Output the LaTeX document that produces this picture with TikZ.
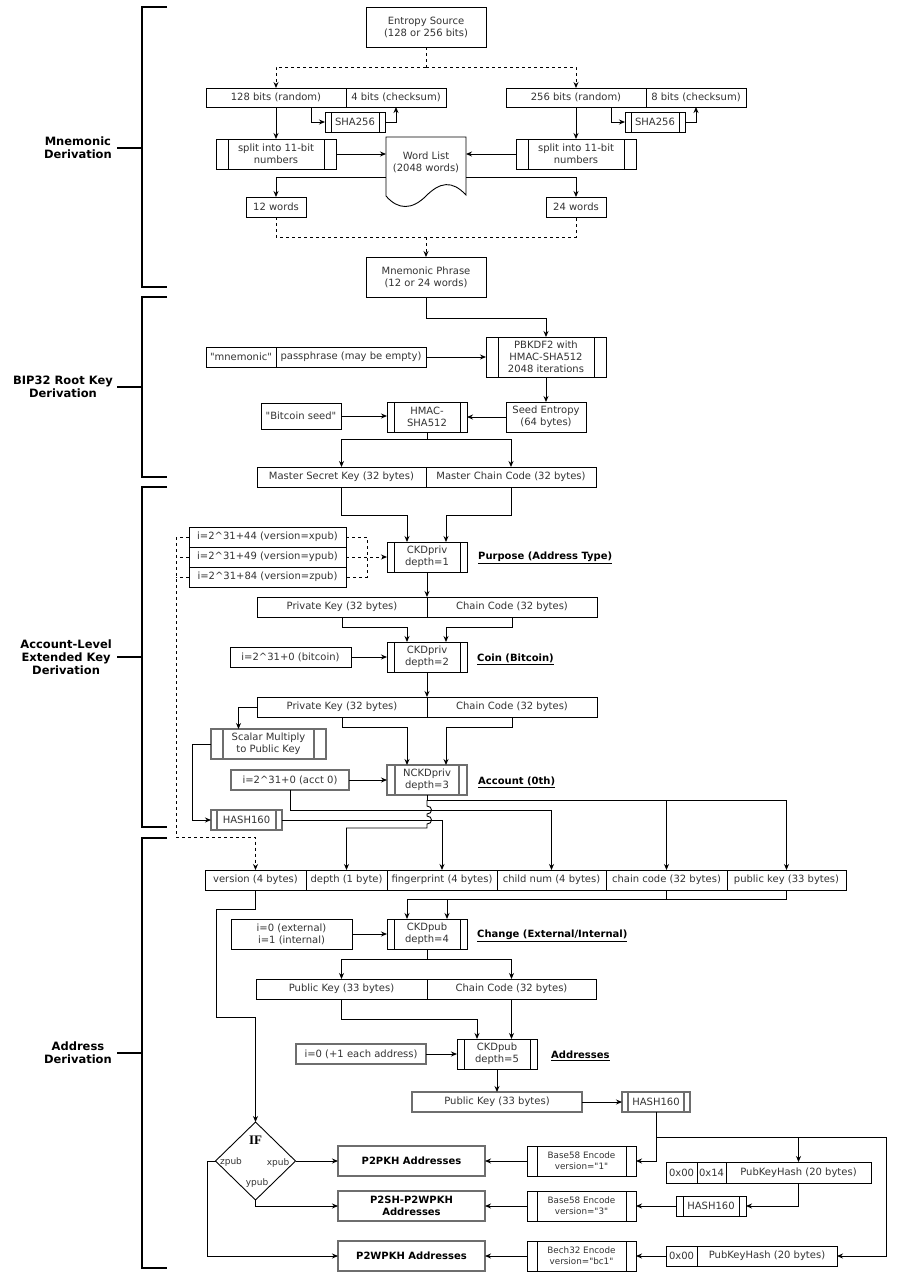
\documentclass[tikz,border=0pt]{standalone}
\usepackage{fontspec}
\setmainfont{DejaVu Sans}
\newfontfamily\dvq{DejaVu Sans}
\newcommand\strq{{\dvq"}}
\newfontfamily\iffont{Liberation Serif}
\usetikzlibrary{arrows.meta,shapes.geometric,calc}
\definecolor{txtc}{HTML}{333333}
\definecolor{gline}{HTML}{6E6E6E}
\tikzset{
 bx/.style={draw=black,line width=0.9pt,align=center,inner sep=1pt,outer sep=0pt,text=txtc,font=\fontsize{10}{12}\selectfont},
 gb/.style={draw=gline,line width=1.8pt},
 addr/.style={gb,font=\bfseries\fontsize{10}{12}\selectfont,text=black},
 ln/.style={line width=0.9pt,draw=black},
 arr/.style={ln,-{Stealth[length=6pt,width=5pt]}},
 dsh/.style={dash pattern=on 3pt off 3pt},
 sm/.style={font=\fontsize{8.8}{11}\selectfont},
 lab/.style={anchor=west,font=\bfseries\fontsize{10}{12}\selectfont,text=black,inner sep=0pt},
 sec/.style={anchor=east,align=center,font=\bfseries\fontsize{11.5}{13}\selectfont,inner sep=0pt},
 brk/.style={line width=2.2pt},
 ifl/.style={font=\fontsize{9}{11}\selectfont,text=txtc,inner sep=0pt},
}
\newcommand\mkbox[7][]{%
  \pgfmathsetmacro\mkcx{(#3+#5)/2}%
  \pgfmathsetmacro\mkcy{(#4+#6)/2}%
  \pgfmathsetmacro\mkw{#5-#3}%
  \pgfmathsetmacro\mkh{#6-#4}%
  \node[bx,#1,minimum width=\mkw pt,minimum height=\mkh pt] (#2) at (\mkcx,\mkcy) {#7};}
\newcommand\mkproc[8][]{%
  \mkbox[#1]{#2}{#3}{#4}{#5}{#6}{#8}%
  \draw[ln,#1] ([xshift=#7pt]#2.north west) -- ([xshift=#7pt]#2.south west)
               ([xshift=-#7pt]#2.north east) -- ([xshift=-#7pt]#2.south east);}
\begin{document}
\begin{tikzpicture}[x=1pt,y=-1pt]
\fill[white] (0,0) rectangle (900,1278);
\useasboundingbox (0,0) rectangle (900,1278);

% ---------- section brackets ----------
\node[sec] (s1) at (112,148) {Mnemonic\\Derivation};
\node[sec] (s2) at (113,387) {BIP32 Root Key\\Derivation};
\node[sec] (s3) at (112,657) {Account-Level\\Extended Key\\Derivation};
\node[sec] (s4) at (112,1053) {Address\\Derivation};
\draw[brk] (167,7) -- (142,7) -- (142,287) -- (167,287);
\draw[brk] (167,297) -- (142,297) -- (142,477) -- (167,477);
\draw[brk] (167,487) -- (142,487) -- (142,827) -- (167,827);
\draw[brk] (167,838) -- (142,838) -- (142,1268) -- (167,1268);
\draw[ln,line width=1.3pt] ([xshift=5pt]s1.east) -- (142,148);
\draw[ln,line width=1.3pt] ([xshift=4pt]s2.east) -- (142,387);
\draw[ln,line width=1.3pt] ([xshift=5pt]s3.east) -- (142,657);
\draw[ln,line width=1.3pt] ([xshift=5pt]s4.east) -- (142,1053);

% ---------- Mnemonic ----------
\mkbox{ent}{366}{7}{486}{47}{Entropy Source\\(128 or 256 bits)}
\mkbox{r128}{206}{88}{346}{107}{128 bits (random)}
\mkbox{c4}{346}{88}{446}{107}{4 bits (checksum)}
\mkbox{r256}{506}{88}{646}{107}{256 bits (random)}
\mkbox{c8}{646}{88}{746}{107}{8 bits (checksum)}
\mkproc{shaA}{325}{112}{385}{132}{6}{SHA256}
\mkproc{shaB}{625}{112}{685}{132}{6}{SHA256}
\mkproc{splA}{216}{139}{336}{169}{12}{split into 11-bit\\numbers}
\mkproc{splB}{516}{139}{636}{169}{12}{split into 11-bit\\numbers}
\node[bx,draw=none,minimum width=80pt,minimum height=50pt] (wl) at (426,162) {Word List\\(2048 words)};
\draw[ln] (wl.north west) -- (wl.north east) -- (466,195)
  .. controls (452,180) and (440,182) .. (426,196)
  .. controls (412,210) and (398,210) .. (386,196) -- cycle;
\mkbox{w12}{246}{197}{306}{217}{12 words}
\mkbox{w24}{546}{197}{606}{217}{24 words}
\mkbox{mp}{366}{257}{486}{297}{Mnemonic Phrase\\(12 or 24 words)}

\draw[ln,dsh] (ent.south) -- ++(0,20) coordinate (ej);
\draw[arr,dsh] (ej) -| (r128.north);
\draw[arr,dsh] (ej) -| (r256.north);
\draw[arr] (r128.south) -- (splA.north);
\draw[arr] (r256.south) -- (splB.north);
\draw[arr] ([xshift=-35pt]r128.south east) |- (shaA.west);
\draw[arr] (shaA.east) -| (c4.south);
\draw[arr] ([xshift=-35pt]r256.south east) |- (shaB.west);
\draw[arr] (shaB.east) -| (c8.south);
\draw[arr] (splA.east) -- (splA.east -| wl.west);
\draw[arr] (splB.west) -- (splB.west -| wl.east);
\draw[arr] ([yshift=-15pt]wl.west) -| (w12.north);
\draw[arr] ([yshift=-15pt]wl.east) -| (w24.north);
\draw[ln,dsh] (w12.south) -- ++(0,20) -| (w24.south);
\coordinate (mj) at (426,237);
\draw[arr,dsh] (mj) -- (mp.north);

% ---------- BIP32 root ----------
\mkproc{pb}{486}{337}{606}{377}{12}{PBKDF2 with\\HMAC-SHA512\\2048 iterations}
\mkbox{mn}{206}{347}{276}{367}{\strq mnemonic\strq}
\mkbox{pp}{276}{347}{426}{367}{passphrase (may be empty)}
\mkbox{se}{506}{402}{586}{432}{Seed Entropy\\(64 bytes)}
\mkproc{hm}{387}{402}{467}{432}{7}{HMAC-\\SHA512}
\mkbox{bs}{261}{403}{341}{429}{\strq Bitcoin seed\strq}
\mkbox{msk}{257}{467}{426}{487}{Master Secret Key (32 bytes)}
\mkbox{mcc}{426}{467}{596}{487}{Master Chain Code (32 bytes)}

\draw[arr] (mp.south) -- ++(0,21) -| (pb.north);
\draw[arr] (pp.east) -- (pp.east -| pb.west);
\draw[arr] (pb.south) -- (se.north);
\draw[arr] (se.west) -- (hm.east);
\draw[arr] (bs.east) -- (bs.east -| hm.west);
\draw[ln] (hm.south) -- ++(0,7) coordinate (hj);
\draw[arr] (hj) -| (msk.north);
\draw[arr] (hj) -| (mcc.north);

% ---------- Account level ----------
\mkproc{ck1}{387}{542}{467}{572}{7}{CKDpriv\\depth=1}
\mkbox{p44}{189}{527}{346}{547}{i=2\textasciicircum 31+44 (version=xpub)}
\mkbox{p49}{189}{547}{346}{567}{i=2\textasciicircum 31+49 (version=ypub)}
\mkbox{p84}{189}{567}{346}{587}{i=2\textasciicircum 31+84 (version=zpub)}
\node[lab] (l1) at (478,558) {\underline{Purpose (Address Type)}};
\mkbox{pk1}{257}{597}{427}{617}{Private Key (32 bytes)}
\mkbox{cc1}{427}{597}{597}{617}{Chain Code (32 bytes)}
\mkproc{ck2}{387}{642}{467}{672}{7}{CKDpriv\\depth=2}
\mkbox{bt}{230}{647}{351}{667}{i=2\textasciicircum 31+0 (bitcoin)}
\node[lab] (l2) at (477,659) {\underline{Coin (Bitcoin)}};
\mkbox{pk2}{257}{697}{427}{717}{Private Key (32 bytes)}
\mkbox{cc2}{427}{697}{597}{717}{Chain Code (32 bytes)}
\mkproc[gb]{sc}{211}{729}{326}{759}{12}{Scalar Multiply\\to Public Key}
\mkproc[gb]{nck}{387}{765}{467}{795}{8}{NCKDpriv\\depth=3}
\mkbox[gb]{a0}{231}{770}{349}{790}{i=2\textasciicircum 31+0 (acct 0)}
\node[lab] (l3) at (478,782) {\underline{Account (0th)}};
\mkproc[gb]{h1}{211}{810}{282}{830}{6}{HASH160}

\draw[arr] (msk.south) -- ++(0,28) -| ([xshift=-20pt]ck1.north);
\draw[arr] (mcc.south) -- ++(0,28) -| ([xshift=19pt]ck1.north);
\draw[ln,dsh] (p44.east) -- ++(21,0) |- (p84.east);
\draw[arr,dsh] (p49.east) -- (p49.east -| ck1.west);
\draw[ln,dsh] (p44.west) -- ++(-13,0) coordinate (dl);
\draw[ln,dsh] (p49.west) -- ++(-13,0);
\draw[ln,dsh] (p84.west) -- ++(-13,0);
\draw[arr] (ck1.south) -- (pk1.north east);
\draw[arr] (pk1.south) -- ++(0,10) -| ([xshift=-20pt]ck2.north);
\draw[arr] (cc1.south) -- ++(0,10) -| ([xshift=19pt]ck2.north);
\draw[arr] (bt.east) -- (bt.east -| ck2.west);
\draw[arr] (ck2.south) -- (pk2.north east);
\draw[arr] (pk2.west) -| ([xshift=-30pt]sc.north);
\draw[arr] (pk2.south) -- ++(0,10) -| ([xshift=-20pt]nck.north);
\draw[arr] (cc2.south) -- ++(0,10) -| ([xshift=19pt]nck.north);
\draw[arr] (a0.east) -- (a0.east -| nck.west);
\draw[arr] (sc.west) -- ++(-19,0) |- (h1.west);

% ---------- extended key row ----------
\mkbox{ver}{205}{870}{306}{890}{version (4 bytes)}
\mkbox{dep}{306}{870}{387}{890}{depth (1 byte)}
\mkbox{fp}{387}{870}{497}{890}{fingerprint (4 bytes)}
\mkbox{cn}{497}{870}{606}{890}{child num (4 bytes)}
\mkbox{cc}{606}{870}{727}{890}{chain code (32 bytes)}
\mkbox{pub}{727}{870}{846}{890}{public key (33 bytes)}

\draw[arr,dsh] (dl) -- (176,837) -| (ver.north);
\draw[ln] (nck.south) -- ++(0,5) coordinate (nj);
\draw[arr] (nj) -| (pub.north);
\draw[arr] (cc.north |- nj) -- (cc.north);
\draw[arr] (a0.south) -- ++(0,20) -| (cn.north);
\draw[arr] (h1.east) -| (fp.north);
\draw[arr] (nj) -- (427,806) .. controls (433,806) and (433,814) .. (427,814)
  -- (427,816) .. controls (433,816) and (433,824) .. (427,824)
  -- (427,828) -| (dep.north);

% ---------- Address derivation ----------
\mkproc{ck4}{387}{919}{467}{949}{7}{CKDpub\\depth=4}
\mkbox{ext}{231}{919}{352}{949}{i=0 (external)\\i=1 (internal)}
\node[lab] (l4) at (477,936) {\underline{Change (External/Internal)}};
\mkbox{pk4}{256}{979}{427}{999}{Public Key (33 bytes)}
\mkbox{cc4}{427}{979}{596}{999}{Chain Code (32 bytes)}
\mkproc{ck5}{457}{1039}{537}{1069}{7}{CKDpub\\depth=5}
\mkbox[gb]{ea}{296}{1044}{426}{1064}{i=0 (+1 each address)}
\node[lab] (l5) at (551,1056) {\underline{Addresses}};
\mkbox[gb]{pk5}{412}{1092}{582}{1112}{Public Key (33 bytes)}
\mkproc[gb]{h2}{622}{1092}{690}{1112}{6}{HASH160}
\mkproc[sm]{b1}{527}{1146}{636}{1176}{10}{Base58 Encode\\version=\strq 1\strq}
\mkproc[sm]{b3}{527}{1191}{636}{1221}{10}{Base58 Encode\\version=\strq 3\strq}
\mkproc[sm]{bc}{527}{1241}{636}{1271}{10}{Bech32 Encode\\version=\strq bc1\strq}
\mkbox{x00a}{666}{1162}{697}{1183}{0x00}
\mkbox{x14}{697}{1162}{726}{1183}{0x14}
\mkbox{pkhA}{726}{1162}{871}{1183}{PubKeyHash (20 bytes)}
\mkproc{h3}{676}{1196}{746}{1216}{7}{HASH160}
\mkbox{x00b}{666}{1246}{697}{1266}{0x00}
\mkbox{pkhB}{697}{1246}{837}{1266}{PubKeyHash (20 bytes)}
\mkbox[addr]{p2pkh}{338}{1146}{485}{1176}{P2PKH Addresses}
\mkbox[addr]{p2sh}{338}{1191}{485}{1221}{P2SH-P2WPKH\\Addresses}
\mkbox[addr]{p2w}{338}{1241}{485}{1271}{P2WPKH Addresses}
\node[diamond,draw=black,line width=0.9pt,minimum width=80pt,minimum height=78pt,inner sep=0pt,outer sep=0pt] (ifd) at (255.5,1161) {};
\node[font=\iffont\bfseries\fontsize{13}{15}\selectfont,inner sep=0pt] (iftx) at (255.5,1140) {IF};
\node[ifl] (zp) at (231,1162) {zpub};
\node[ifl] (xp) at (278,1163) {xpub};
\node[ifl] (yp) at (257,1183) {ypub};

\coordinate (pj) at ([yshift=-9pt]pub.south);
\draw[arr] (pub.south) -- (pj) -| ([xshift=-20pt]ck4.north);
\draw[ln] (cc.south) -- (cc.south |- pj);
\draw[arr] ([xshift=20pt]ck4.north |- pj) -- ([xshift=20pt]ck4.north);
\draw[arr] (ext.east) -- (ext.east -| ck4.west);
\draw[ln] (ck4.south) -- ++(0,10) coordinate (c4j);
\draw[arr] (c4j) -| (pk4.north);
\draw[arr] (c4j) -| (cc4.north);
\draw[arr] (pk4.south) -- ++(0,20) -| ([xshift=-20pt]ck5.north);
\draw[arr] (cc4.south) -- (cc4.south |- ck5.north);
\draw[arr] (ea.east) -- (ea.east -| ck5.west);
\draw[arr] (ck5.south) -- (pk5.north);
\draw[arr] (pk5.east) -- (h2.west);
\draw[arr] (h2.south) |- (b1.east);
\draw[ln] (h2.south) -- ++(0,25) coordinate (hj2);
\draw[arr] (hj2) -- (886,1137) |- (pkhB.east);
\draw[arr] (pkhA.north |- hj2) -- (pkhA.north);
\draw[arr] (pkhA.south) |- (h3.east);
\draw[arr] (h3.west) -- (h3.west -| b3.east);
\draw[arr] (x00b.west) -- (x00b.west -| bc.east);
\draw[arr] (b1.west) -- (b1.west -| p2pkh.east);
\draw[arr] (b3.west) -- (b3.west -| p2sh.east);
\draw[arr] (bc.west) -- (bc.west -| p2w.east);
\draw[arr] (ver.south) -- ++(0,19) -- (216,909) -- (216,1017) -| (ifd.north);
\draw[arr] (ifd.east) -- (ifd.east -| p2pkh.west);
\draw[arr] (ifd.south) |- (p2sh.west);
\draw[arr] (ifd.west) -- ++(-8,0) |- (p2w.west);
\end{tikzpicture}
\end{document}
